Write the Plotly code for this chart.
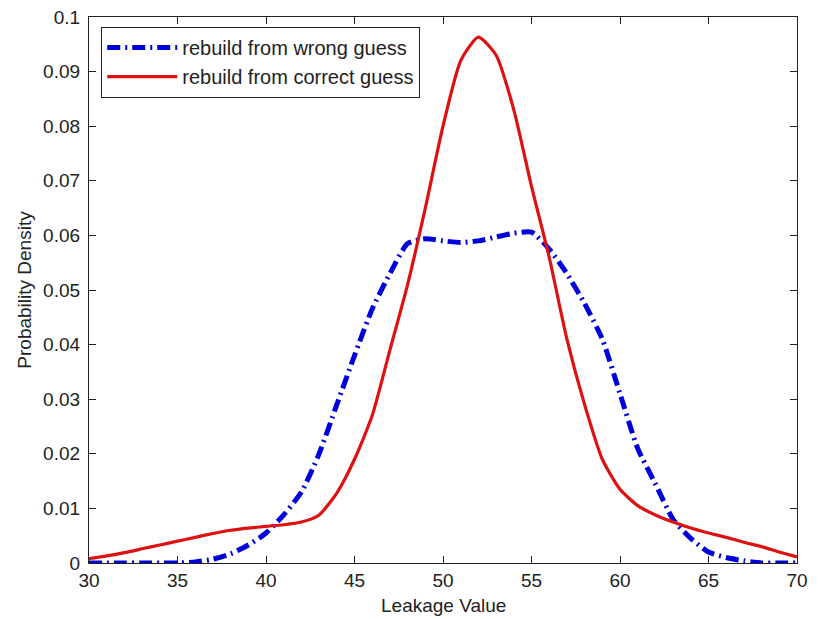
import plotly.graph_objects as go

x_vals = list(range(30, 71))

wrong_guess = [0, 0, 0, 0, 0, 0, 0.0002, 0.0007, 0.0017, 0.0033,
               0.0055, 0.0088, 0.013, 0.020, 0.029, 0.038, 0.0465, 0.053, 0.0585, 0.0594,
               0.059, 0.0587, 0.059, 0.0597, 0.0604, 0.0606, 0.0575, 0.053, 0.0475, 0.041,
               0.031, 0.021, 0.0145, 0.008, 0.0045, 0.002, 0.001, 0.0004, 0, 0, 0]

correct_guess = [0.0008, 0.0013, 0.0019, 0.0026, 0.0033, 0.004, 0.0047, 0.0054, 0.006, 0.0064,
                 0.0067, 0.007, 0.0075, 0.0088, 0.0128, 0.019, 0.027, 0.039, 0.051, 0.065,
                 0.080, 0.092, 0.0963, 0.093, 0.083, 0.069, 0.056, 0.041, 0.029, 0.019,
                 0.0135, 0.0105, 0.0088, 0.0075, 0.0064, 0.0055, 0.0047, 0.0038, 0.003, 0.002, 0.0011]

x_ticks = [30, 35, 40, 45, 50, 55, 60, 65, 70]
y_ticks = [0, 0.01, 0.02, 0.03, 0.04, 0.05, 0.06, 0.07, 0.08, 0.09, 0.1]
y_tick_labels = ["0", "0.01", "0.02", "0.03", "0.04", "0.05", "0.06", "0.07", "0.08", "0.09", "0.1"]

FONT = "Liberation Sans, Arial, sans-serif"
FS = 19

fig = go.Figure()
fig.add_trace(go.Scatter(
    x=x_vals, y=wrong_guess, mode="lines", name="rebuild from wrong guess",
    line=dict(color="#0000dd", width=5, dash="13px,5px,2px,5px", shape="spline", smoothing=0.6),
))
fig.add_trace(go.Scatter(
    x=x_vals, y=correct_guess, mode="lines", name="rebuild from correct guess",
    line=dict(color="#dd1111", width=3.2, shape="spline", smoothing=0.6),
))

axis_common = dict(
    showline=True, linecolor="#222", linewidth=1.2, mirror="ticks",
    ticks="inside", ticklen=7, tickcolor="#222", showgrid=False, zeroline=False,
    tickfont=dict(family=FONT, size=FS, color="#222"), ticklabeloverflow="allow",
    automargin=False,
)

# page body has an 8px default margin, so the figure is offset by 8px
fig.update_layout(
    width=813, height=611,
    margin=dict(l=81, r=24, t=9, b=56),
    paper_bgcolor="white", plot_bgcolor="white",
    font=dict(family=FONT, size=FS, color="#222"),
    xaxis=dict(range=[30, 70], tickvals=x_ticks, **axis_common),
    yaxis=dict(range=[0, 0.1], tickvals=y_ticks, ticktext=y_tick_labels, ticklabelstandoff=4,
               title=dict(text="Probability Density", standoff=6, font=dict(size=FS)), **axis_common),
    legend=dict(x=0.017, y=0.982, xanchor="left", yanchor="top",
                bordercolor="#222", borderwidth=1.2, bgcolor="white", itemwidth=70,
                font=dict(size=20, color="#222"), tracegroupgap=0),
    showlegend=True,
    annotations=[dict(text="Leakage Value", xref="paper", yref="paper", x=0.5, y=0,
                      yshift=-42, xanchor="center", yanchor="middle", showarrow=False,
                      font=dict(family=FONT, size=FS, color="#222"))],
)

fig.write_html("out.html")
